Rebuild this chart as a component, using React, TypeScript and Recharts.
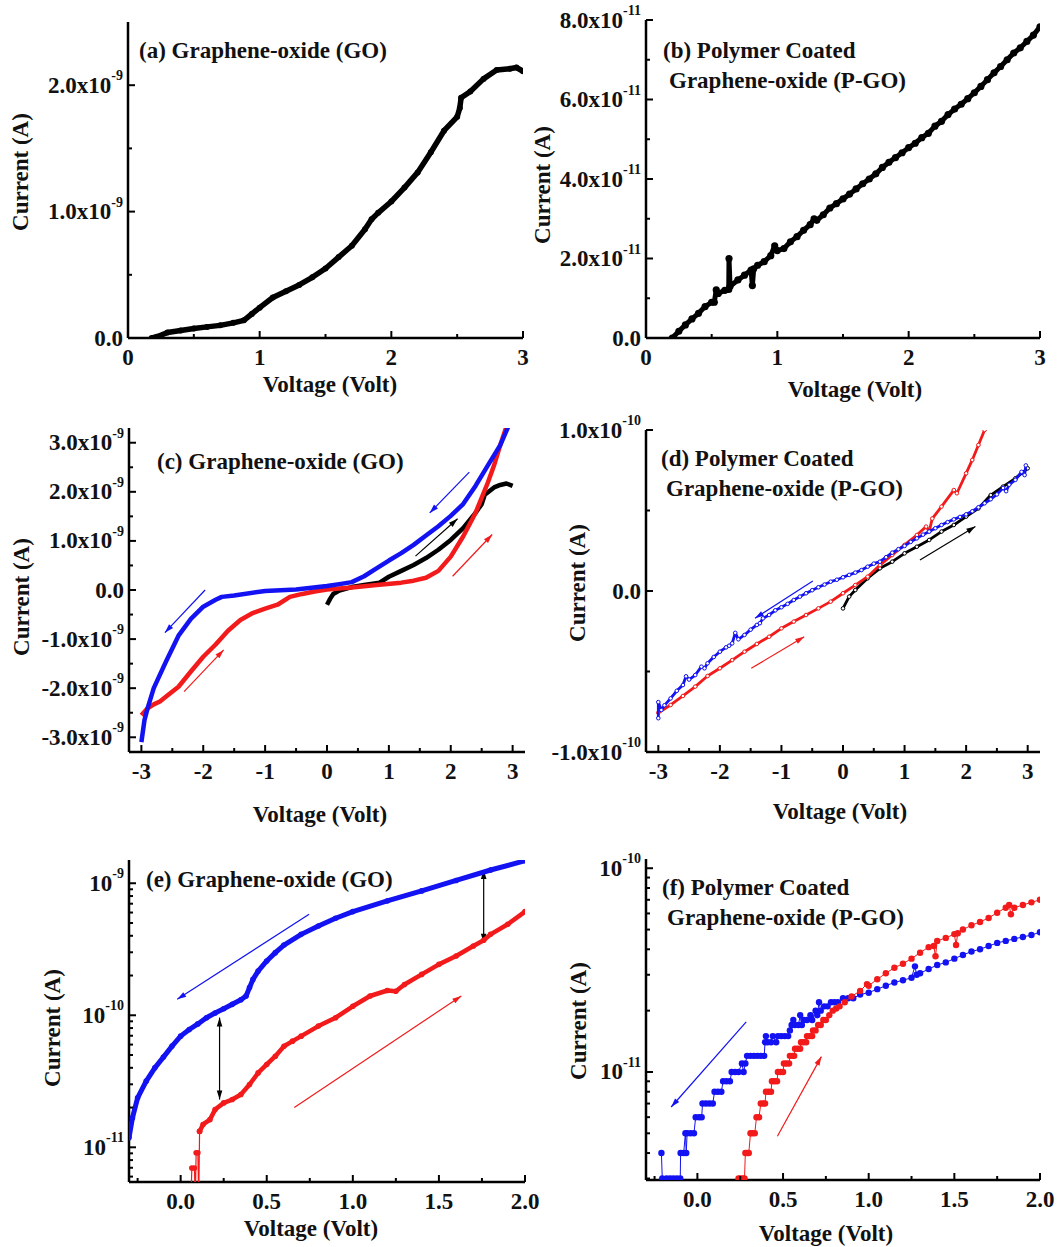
import React from "react";
import { ComposedChart, Scatter, XAxis, YAxis, ReferenceLine } from "recharts";

type Pt = [number, number];
type Lbl = [string, string?];
type Series = { pts: Pt[]; color: string; r: number; lw: number; hollow?: boolean };
type Arrow = { from: Pt; to: Pt; color: string; both?: boolean };

const BLUE = "#1212f2";
const RED = "#f21a1a";
const BLACK = "#000";
const FONT = "'Liberation Serif', 'Times New Roman', serif";

// ---- (a) GO, 0 -> 3 V
const aCurve: Pt[] = [
  [0.18, 0], [0.22, 0.01e-9], [0.3, 0.044e-9], [0.4, 0.06e-9], [0.5, 0.075e-9], [0.6, 0.088e-9],
  [0.7, 0.1e-9], [0.8, 0.12e-9], [0.88, 0.14e-9], [0.94, 0.19e-9], [1.0, 0.24e-9], [1.1, 0.32e-9],
  [1.2, 0.37e-9], [1.3, 0.42e-9], [1.4, 0.48e-9], [1.5, 0.55e-9], [1.6, 0.64e-9], [1.7, 0.73e-9],
  [1.8, 0.86e-9], [1.85, 0.94e-9], [1.9, 0.99e-9], [2.0, 1.08e-9], [2.1, 1.19e-9], [2.2, 1.31e-9],
  [2.3, 1.47e-9], [2.4, 1.64e-9], [2.5, 1.75e-9], [2.52, 1.82e-9], [2.53, 1.9e-9], [2.6, 1.95e-9],
  [2.7, 2.05e-9], [2.8, 2.12e-9], [2.9, 2.13e-9], [2.95, 2.14e-9], [3.0, 2.11e-9],
];

// ---- (b) P-GO, 0 -> 3 V
const bCurve: Pt[] = [
  [0.2, 0], [0.25, 0.17e-11], [0.3, 0.33e-11], [0.35, 0.48e-11], [0.4, 0.62e-11], [0.45, 0.79e-11],
  [0.5, 0.9e-11], [0.52, 0.9e-11], [0.535, 1.21e-11], [0.55, 1.12e-11], [0.6, 1.2e-11], [0.63, 1.22e-11],
  [0.632, 2.0e-11], [0.64, 1.3e-11], [0.7, 1.46e-11], [0.75, 1.58e-11], [0.8, 1.71e-11], [0.81, 1.32e-11],
  [0.82, 1.74e-11], [0.85, 1.83e-11], [0.9, 1.92e-11], [0.95, 2.07e-11], [0.98, 2.32e-11], [1.0, 2.2e-11],
  [1.05, 2.25e-11], [1.1, 2.42e-11], [1.15, 2.55e-11], [1.2, 2.71e-11], [1.25, 2.85e-11], [1.28, 3.0e-11],
  [1.3, 2.96e-11], [1.35, 3.1e-11], [1.4, 3.27e-11], [1.45, 3.38e-11], [1.5, 3.5e-11], [1.55, 3.62e-11],
  [1.6, 3.75e-11], [1.65, 3.88e-11], [1.7, 4.0e-11], [1.75, 4.13e-11], [1.8, 4.29e-11], [1.85, 4.42e-11],
  [1.9, 4.54e-11], [1.95, 4.66e-11], [2.0, 4.79e-11], [2.05, 4.9e-11], [2.1, 5.04e-11], [2.15, 5.15e-11],
  [2.2, 5.33e-11], [2.25, 5.45e-11], [2.3, 5.62e-11], [2.35, 5.76e-11], [2.4, 5.88e-11], [2.45, 6.02e-11],
  [2.5, 6.17e-11], [2.55, 6.33e-11], [2.6, 6.5e-11], [2.65, 6.67e-11], [2.7, 6.83e-11], [2.75, 7.0e-11],
  [2.8, 7.17e-11], [2.85, 7.3e-11], [2.9, 7.46e-11], [2.95, 7.62e-11], [3.0, 7.83e-11],
];

// ---- (c) GO sweep
const cBlack: Pt[] = [
  [0.0, -0.3e-9], [0.05, -0.18e-9], [0.1, -0.08e-9], [0.2, -0.01e-9], [0.4, 0.06e-9], [0.6, 0.1e-9],
  [0.85, 0.15e-9], [1.0, 0.27e-9], [1.2, 0.39e-9], [1.4, 0.51e-9], [1.6, 0.65e-9], [1.8, 0.82e-9],
  [2.0, 1.02e-9], [2.2, 1.26e-9], [2.4, 1.57e-9], [2.5, 1.75e-9], [2.55, 1.94e-9], [2.7, 2.09e-9],
  [2.8, 2.14e-9], [2.9, 2.17e-9], [3.0, 2.12e-9],
];
const cRed: Pt[] = [
  [-3.0, -2.55e-9], [-2.9, -2.41e-9], [-2.8, -2.33e-9], [-2.7, -2.27e-9], [-2.6, -2.17e-9],
  [-2.4, -1.97e-9], [-2.2, -1.66e-9], [-2.0, -1.36e-9], [-1.8, -1.11e-9], [-1.6, -0.83e-9],
  [-1.4, -0.61e-9], [-1.2, -0.47e-9], [-1.0, -0.38e-9], [-0.8, -0.3e-9], [-0.6, -0.14e-9],
  [-0.4, -0.08e-9], [-0.2, -0.03e-9], [0.0, 0.01e-9], [0.4, 0.05e-9], [0.8, 0.1e-9], [1.2, 0.15e-9],
  [1.4, 0.19e-9], [1.6, 0.25e-9], [1.8, 0.39e-9], [2.0, 0.68e-9], [2.2, 1.09e-9], [2.4, 1.57e-9],
  [2.6, 2.19e-9], [2.7, 2.54e-9], [2.8, 2.95e-9], [2.9, 3.33e-9],
];
const cBlue: Pt[] = [
  [2.93, 3.33e-9], [2.8, 2.95e-9], [2.6, 2.54e-9], [2.4, 2.12e-9], [2.2, 1.75e-9], [2.0, 1.51e-9],
  [1.8, 1.3e-9], [1.6, 1.11e-9], [1.4, 0.92e-9], [1.2, 0.75e-9], [1.0, 0.6e-9], [0.8, 0.44e-9],
  [0.6, 0.28e-9], [0.4, 0.16e-9], [0.2, 0.12e-9], [0.0, 0.08e-9], [-0.5, 0.01e-9], [-1.0, -0.02e-9],
  [-1.5, -0.11e-9], [-1.7, -0.14e-9], [-1.8, -0.2e-9], [-2.0, -0.34e-9], [-2.2, -0.59e-9],
  [-2.4, -0.93e-9], [-2.6, -1.45e-9], [-2.8, -2.0e-9], [-2.9, -2.41e-9], [-2.95, -2.65e-9], [-3.0, -3.1e-9],
];

// ---- (d) P-GO sweep
const dBlack: Pt[] = [
  [0.0, -0.108e-10], [0.1, -0.035e-10], [0.2, 0.006e-10], [0.4, 0.079e-10], [0.6, 0.141e-10],
  [0.8, 0.182e-10], [1.0, 0.234e-10], [1.2, 0.275e-10], [1.4, 0.317e-10], [1.6, 0.369e-10],
  [1.8, 0.41e-10], [2.0, 0.462e-10], [2.2, 0.513e-10], [2.4, 0.596e-10], [2.6, 0.648e-10],
  [2.8, 0.7e-10], [3.0, 0.762e-10],
];
const dRed: Pt[] = [
  [-3.0, -0.756e-10], [-2.8, -0.708e-10], [-2.6, -0.652e-10], [-2.4, -0.594e-10], [-2.2, -0.528e-10],
  [-2.0, -0.48e-10], [-1.8, -0.429e-10], [-1.6, -0.377e-10], [-1.4, -0.329e-10], [-1.2, -0.284e-10],
  [-1.0, -0.232e-10], [-0.8, -0.19e-10], [-0.6, -0.149e-10], [-0.4, -0.108e-10], [-0.2, -0.066e-10],
  [0.0, -0.014e-10], [0.2, 0.037e-10], [0.4, 0.089e-10], [0.6, 0.161e-10], [0.8, 0.224e-10],
  [1.0, 0.286e-10], [1.2, 0.348e-10], [1.35, 0.4e-10], [1.4, 0.37e-10], [1.45, 0.45e-10],
  [1.6, 0.524e-10], [1.8, 0.627e-10], [1.85, 0.607e-10], [2.0, 0.731e-10], [2.1, 0.814e-10],
  [2.2, 0.907e-10], [2.3, 1.0e-10],
];
const dBlue: Pt[] = [
  [2.97, 0.78e-10], [2.95, 0.72e-10], [2.9, 0.74e-10], [2.8, 0.69e-10], [2.7, 0.66e-10], [2.65, 0.62e-10],
  [2.6, 0.64e-10], [2.5, 0.6e-10], [2.4, 0.57e-10], [2.3, 0.545e-10], [2.2, 0.52e-10], [2.1, 0.495e-10],
  [2.0, 0.476e-10], [1.9, 0.46e-10], [1.8, 0.445e-10], [1.7, 0.428e-10], [1.6, 0.41e-10], [1.5, 0.39e-10],
  [1.4, 0.369e-10], [1.3, 0.35e-10], [1.2, 0.327e-10], [1.1, 0.305e-10], [1.0, 0.28e-10], [0.9, 0.26e-10],
  [0.8, 0.238e-10], [0.7, 0.21e-10], [0.6, 0.182e-10], [0.5, 0.17e-10], [0.4, 0.151e-10], [0.3, 0.13e-10],
  [0.2, 0.114e-10], [0.1, 0.1e-10], [0.0, 0.085e-10], [-0.1, 0.07e-10], [-0.2, 0.058e-10], [-0.3, 0.04e-10],
  [-0.4, 0.023e-10], [-0.5, 0.005e-10], [-0.6, -0.014e-10], [-0.7, -0.035e-10], [-0.8, -0.056e-10],
  [-0.9, -0.08e-10], [-1.0, -0.101e-10], [-1.1, -0.12e-10], [-1.2, -0.149e-10], [-1.3, -0.17e-10],
  [-1.35, -0.2e-10], [-1.4, -0.211e-10], [-1.5, -0.24e-10], [-1.6, -0.273e-10], [-1.7, -0.3e-10],
  [-1.75, -0.26e-10], [-1.8, -0.325e-10], [-1.85, -0.34e-10], [-1.9, -0.35e-10], [-2.0, -0.377e-10],
  [-2.1, -0.41e-10], [-2.2, -0.449e-10], [-2.25, -0.48e-10], [-2.3, -0.47e-10], [-2.4, -0.522e-10],
  [-2.5, -0.55e-10], [-2.55, -0.53e-10], [-2.6, -0.584e-10], [-2.7, -0.62e-10], [-2.8, -0.667e-10],
  [-2.9, -0.71e-10], [-2.95, -0.739e-10], [-3.0, -0.69e-10], [-3.0, -0.79e-10],
];

// ---- (e) GO, log scale
const eBlue: Pt[] = [
  [-0.3, 1.18e-11], [-0.28, 1.67e-11], [-0.25, 2.37e-11], [-0.2, 3.17e-11], [-0.15, 4.0e-11],
  [-0.1, 4.82e-11], [-0.05, 5.84e-11], [0.0, 6.95e-11], [0.05, 7.8e-11], [0.1, 8.6e-11], [0.15, 9.58e-11],
  [0.2, 1.04e-10], [0.25, 1.12e-10], [0.3, 1.21e-10], [0.35, 1.31e-10], [0.38, 1.4e-10], [0.4, 1.62e-10],
  [0.42, 1.87e-10], [0.45, 2.16e-10], [0.5, 2.58e-10], [0.55, 2.98e-10], [0.6, 3.4e-10], [0.7, 4.1e-10],
  [0.8, 4.75e-10], [0.9, 5.43e-10], [1.0, 6.1e-10], [1.2, 7.34e-10], [1.4, 8.75e-10], [1.6, 1.05e-9],
  [1.8, 1.26e-9], [2.0, 1.48e-9],
];
const eRedTail: Pt[] = [
  [0.06, 4e-12], [0.065, 6.97e-12], [0.08, 6.97e-12], [0.085, 4e-12], [0.09, 9.1e-12], [0.1, 9.1e-12],
  [0.105, 4e-12], [0.11, 1.32e-11],
];
const eRed: Pt[] = [
  [0.11, 1.32e-11], [0.13, 1.49e-11], [0.17, 1.62e-11], [0.2, 1.93e-11], [0.25, 2.17e-11], [0.3, 2.3e-11],
  [0.35, 2.51e-11], [0.4, 2.99e-11], [0.45, 3.66e-11], [0.5, 4.24e-11], [0.55, 4.9e-11], [0.6, 5.83e-11],
  [0.65, 6.37e-11], [0.7, 6.95e-11], [0.8, 8.28e-11], [0.9, 9.58e-11], [1.0, 1.17e-10], [1.1, 1.4e-10],
  [1.2, 1.54e-10], [1.25, 1.52e-10], [1.3, 1.71e-10], [1.4, 2.04e-10], [1.5, 2.43e-10], [1.6, 2.81e-10],
  [1.7, 3.35e-10], [1.76, 3.7e-10], [1.8, 4.1e-10], [1.9, 4.89e-10], [2.0, 6.1e-10],
];

// ---- (f) P-GO, log scale
const fBlue: Pt[] = [
  [-0.21, 4e-12], [-0.205, 3e-12], [-0.18, 3e-12], [-0.16, 3e-12], [-0.14, 3e-12], [-0.12, 3e-12],
  [-0.1, 3e-12], [-0.098, 4e-12], [-0.08, 4e-12], [-0.07, 5e-12], [-0.065, 4e-12], [-0.06, 5e-12],
  [-0.04, 5e-12], [-0.02, 5e-12], [-0.01, 6e-12], [0.01, 6e-12], [0.025, 6e-12], [0.03, 7e-12],
  [0.05, 7e-12], [0.07, 7e-12], [0.09, 7e-12], [0.1, 8e-12], [0.12, 8e-12], [0.14, 8e-12], [0.15, 9e-12],
  [0.17, 9e-12], [0.19, 9e-12], [0.2, 1e-11], [0.22, 1e-11], [0.24, 1e-11], [0.26, 1.1e-11], [0.27, 1e-11],
  [0.28, 1.1e-11], [0.29, 1.2e-11], [0.31, 1.2e-11], [0.33, 1.2e-11], [0.35, 1.2e-11], [0.37, 1.2e-11],
  [0.39, 1.2e-11], [0.395, 1.4e-11], [0.4, 1.5e-11], [0.41, 1.4e-11], [0.43, 1.4e-11], [0.44, 1.5e-11],
  [0.46, 1.4e-11], [0.47, 1.5e-11], [0.49, 1.5e-11], [0.51, 1.5e-11], [0.53, 1.5e-11], [0.54, 1.6e-11],
  [0.55, 1.7e-11], [0.56, 1.8e-11], [0.57, 1.7e-11], [0.59, 1.7e-11], [0.6, 1.9e-11], [0.61, 1.7e-11],
  [0.62, 1.8e-11], [0.64, 1.8e-11], [0.66, 1.9e-11], [0.67, 1.8e-11], [0.69, 2.0e-11], [0.7, 1.9e-11],
  [0.71, 2.2e-11], [0.72, 2.0e-11], [0.74, 2.1e-11], [0.76, 2.1e-11], [0.78, 2.2e-11], [0.8, 2.2e-11],
  [0.82, 2.2e-11], [0.85, 2.3e-11], [0.88, 2.3e-11], [0.91, 2.3e-11], [0.95, 2.4e-11], [1.0, 2.45e-11],
  [1.05, 2.55e-11], [1.1, 2.65e-11], [1.15, 2.75e-11], [1.2, 2.82e-11], [1.25, 2.9e-11], [1.27, 3.3e-11],
  [1.28, 3.0e-11], [1.3, 3.05e-11], [1.35, 3.2e-11], [1.4, 3.35e-11], [1.45, 3.45e-11], [1.5, 3.6e-11],
  [1.55, 3.75e-11], [1.6, 3.9e-11], [1.65, 4.0e-11], [1.7, 4.15e-11], [1.75, 4.3e-11], [1.8, 4.4e-11],
  [1.85, 4.5e-11], [1.9, 4.6e-11], [1.95, 4.7e-11], [2.0, 4.85e-11],
];
const fRed: Pt[] = [
  [0.24, 3e-12], [0.25, 3e-12], [0.265, 3e-12], [0.275, 3e-12], [0.28, 4e-12], [0.29, 4e-12], [0.3, 4e-12],
  [0.31, 5e-12], [0.32, 5e-12], [0.335, 5e-12], [0.345, 6e-12], [0.36, 6e-12], [0.37, 7e-12], [0.385, 7e-12],
  [0.395, 7e-12], [0.4, 8e-12], [0.415, 8e-12], [0.43, 8e-12], [0.435, 9e-12], [0.45, 9e-12], [0.465, 9e-12],
  [0.47, 1e-11], [0.485, 1e-11], [0.5, 1e-11], [0.505, 1.1e-11], [0.52, 1.1e-11], [0.535, 1.1e-11],
  [0.54, 1.2e-11], [0.555, 1.2e-11], [0.565, 1.2e-11], [0.57, 1.3e-11], [0.585, 1.3e-11], [0.6, 1.3e-11],
  [0.605, 1.4e-11], [0.62, 1.4e-11], [0.635, 1.4e-11], [0.64, 1.5e-11], [0.655, 1.5e-11], [0.67, 1.5e-11],
  [0.675, 1.6e-11], [0.69, 1.6e-11], [0.705, 1.7e-11], [0.72, 1.7e-11], [0.735, 1.8e-11], [0.75, 1.8e-11],
  [0.77, 1.9e-11], [0.79, 2.0e-11], [0.81, 2.05e-11], [0.83, 2.1e-11], [0.86, 2.2e-11], [0.9, 2.35e-11],
  [0.95, 2.5e-11], [0.99, 2.7e-11], [1.0, 2.65e-11], [1.05, 2.85e-11], [1.1, 3.05e-11], [1.15, 3.25e-11],
  [1.2, 3.4e-11], [1.25, 3.6e-11], [1.3, 3.85e-11], [1.35, 4.1e-11], [1.38, 4.15e-11], [1.39, 3.7e-11],
  [1.4, 4.4e-11], [1.45, 4.55e-11], [1.5, 4.75e-11], [1.51, 4.2e-11], [1.52, 4.8e-11], [1.55, 5.0e-11],
  [1.6, 5.25e-11], [1.65, 5.45e-11], [1.7, 5.7e-11], [1.75, 6.05e-11], [1.8, 6.4e-11], [1.82, 6.6e-11],
  [1.83, 5.95e-11], [1.85, 6.4e-11], [1.9, 6.6e-11], [1.95, 6.8e-11], [2.0, 7.0e-11],
];

// ---- sweep-direction arrows
const cArrows: Arrow[] = [
  { from: [2.3, 2.4e-9], to: [1.66, 1.57e-9], color: BLUE },
  { from: [1.43, 0.69e-9], to: [2.11, 1.45e-9], color: BLACK },
  { from: [2.03, 0.28e-9], to: [2.67, 1.13e-9], color: RED },
  { from: [-1.97, 0.0], to: [-2.62, -0.87e-9], color: BLUE },
  { from: [-2.31, -2.07e-9], to: [-1.67, -1.22e-9], color: RED },
];
const dArrows: Arrow[] = [
  { from: [-0.49, 0.062e-10], to: [-1.43, -0.17e-10], color: BLUE },
  { from: [-1.49, -0.48e-10], to: [-0.63, -0.284e-10], color: RED },
  { from: [1.25, 0.193e-10], to: [2.15, 0.4e-10], color: BLACK },
];
const eArrows: Arrow[] = [
  { from: [0.746, 5.82e-10], to: [-0.02, 1.32e-10], color: BLUE },
  { from: [0.66, 2.0e-11], to: [1.63, 1.4e-10], color: RED },
  { from: [0.226, 9.6e-11], to: [0.226, 2.3e-11], color: BLACK, both: true },
  { from: [1.76, 1.26e-9], to: [1.76, 3.55e-10], color: BLACK, both: true },
];
const fArrows: Arrow[] = [
  { from: [0.285, 1.76e-11], to: [-0.153, 6.73e-12], color: BLUE },
  { from: [0.467, 4.84e-12], to: [0.724, 1.19e-11], color: RED },
];

// ---- ticks
const x03Major = [0, 1, 2, 3];
const x03Minor = [0.5, 1.5, 2.5];
const x03Text = ["0", "1", "2", "3"];
const x33Major = [-3, -2, -1, 0, 1, 2, 3];
const x33Minor = [-2.5, -1.5, -0.5, 0.5, 1.5, 2.5];
const x33Text = ["-3", "-2", "-1", "0", "1", "2", "3"];
const x02Major = [0, 0.5, 1, 1.5, 2];
const x02Minor = [-0.25, 0.25, 0.75, 1.25, 1.75];
const x02Text = ["0.0", "0.5", "1.0", "1.5", "2.0"];

const aYMajor = [0, 1e-9, 2e-9];
const aYMinor = [0.5e-9, 1.5e-9];
const aYText: Lbl[] = [["0.0"], ["1.0x10", "-9"], ["2.0x10", "-9"]];
const bYMajor = [0, 2e-11, 4e-11, 6e-11, 8e-11];
const bYMinor = [1e-11, 3e-11, 5e-11, 7e-11];
const bYText: Lbl[] = [["0.0"], ["2.0x10", "-11"], ["4.0x10", "-11"], ["6.0x10", "-11"], ["8.0x10", "-11"]];
const cYMajor = [-3e-9, -2e-9, -1e-9, 0, 1e-9, 2e-9, 3e-9];
const cYMinor = [-2.5e-9, -1.5e-9, -0.5e-9, 0.5e-9, 1.5e-9, 2.5e-9];
const cYText: Lbl[] = [
  ["-3.0x10", "-9"], ["-2.0x10", "-9"], ["-1.0x10", "-9"], ["0.0"], ["1.0x10", "-9"], ["2.0x10", "-9"], ["3.0x10", "-9"],
];
const dYMajor = [-1e-10, 0, 1e-10];
const dYMinor = [-0.5e-10, 0.5e-10];
const dYText: Lbl[] = [["-1.0x10", "-10"], ["0.0"], ["1.0x10", "-10"]];
const eYMajor = [1e-11, 1e-10, 1e-9];
const eYMinor = [
  6e-12, 7e-12, 8e-12, 9e-12, 2e-11, 3e-11, 4e-11, 5e-11, 6e-11, 7e-11, 8e-11, 9e-11,
  2e-10, 3e-10, 4e-10, 5e-10, 6e-10, 7e-10, 8e-10, 9e-10,
];
const eYText: Lbl[] = [["10", "-11"], ["10", "-10"], ["10", "-9"]];
const fYMajor = [1e-11, 1e-10];
const fYMinor = [3e-12, 4e-12, 5e-12, 6e-12, 7e-12, 8e-12, 9e-12, 2e-11, 3e-11, 4e-11, 5e-11, 6e-11, 7e-11, 8e-11, 9e-11];
const fYText: Lbl[] = [["10", "-11"], ["10", "-10"]];

const YW = 130;
const XH = 44;
const TM = 26;
const RM = 24;
const AX = { stroke: "#000", strokeWidth: 2.5 };

function findMajor(majors: number[], v: number) {
  return majors.findIndex((m) => Math.abs(m - v) <= Math.abs(m) * 1e-6 + 1e-24);
}

function makeTick(side: "left" | "right" | "top" | "bottom", majors: number[], labels?: Lbl[]) {
  return (p: any) => {
    const v = p.payload.value;
    const idx = findMajor(majors, v);
    const len = idx >= 0 ? 7 : 4;
    const x = Number(p.x);
    const y = Number(p.y);
    let l = [x, y, x, y];
    if (side === "left") l = [x, y, x + len, y];
    if (side === "right") l = [x, y, x - len, y];
    if (side === "top") l = [x, y, x, y + len];
    if (side === "bottom") l = [x, y, x, y - len];
    const lab = labels && idx >= 0 ? labels[idx] : null;
    return (
      <g>
        <line x1={l[0]} y1={l[1]} x2={l[2]} y2={l[3]} stroke="#000" strokeWidth={2} />
        {lab && side === "left" && (
          <text x={x - 5} y={y} textAnchor="end" dominantBaseline="central" fontFamily={FONT} fontWeight="bold" fontSize={23} fill="#111">
            {lab[0]}
            {lab[1] && <tspan dy={-10} fontSize={14}>{lab[1]}</tspan>}
          </text>
        )}
        {lab && side === "bottom" && (
          <text x={x} y={y + 19} textAnchor="middle" dominantBaseline="central" fontFamily={FONT} fontWeight="bold" fontSize={23} fill="#111">
            {lab[0]}
          </text>
        )}
      </g>
    );
  };
}

function dotShape(s: Series) {
  return (p: any) => {
    if (s.r <= 0 || p.cx == null) return <g />;
    return (
      <circle cx={p.cx} cy={p.cy} r={s.r} fill={s.hollow ? "#fff" : s.color} stroke={s.color} strokeWidth={s.hollow ? 1 : 0} />
    );
  };
}

function head(fx: number, fy: number, tx: number, ty: number, color: string) {
  const dx = tx - fx;
  const dy = ty - fy;
  const L = Math.hypot(dx, dy) || 1;
  const ux = dx / L;
  const uy = dy / L;
  const bx = tx - ux * 9;
  const by = ty - uy * 9;
  return <polygon points={`${tx},${ty} ${bx - uy * 2.8},${by + ux * 2.8} ${bx + uy * 2.8},${by - ux * 2.8}`} fill={color} />;
}

function arrowShape(a: Arrow) {
  return (p: any) => {
    const { x1, y1, x2, y2 } = p;
    return (
      <g>
        <line x1={x1} y1={y1} x2={x2} y2={y2} stroke={a.color} strokeWidth={1.2} />
        {head(x1, y1, x2, y2, a.color)}
        {a.both && head(x2, y2, x1, y1, a.color)}
      </g>
    );
  };
}

type PanelProps = {
  box: [number, number, number, number];
  xDomain: [number, number];
  yDomain: [number, number];
  log?: boolean;
  xMajor: number[];
  xMinor: number[];
  xText: string[];
  yMajor: number[];
  yMinor: number[];
  yText: Lbl[];
  series: Series[];
  arrows: Arrow[];
};

function Panel(p: PanelProps) {
  const [left, top, w, h] = p.box;
  const xt = [...p.xMajor, ...p.xMinor].sort((a, b) => a - b);
  const yt = [...p.yMajor, ...p.yMinor].sort((a, b) => a - b);
  const scale = p.log ? "log" : "linear";
  return (
    <div style={{ position: "absolute", left: left - YW, top: top - TM }}>
      <ComposedChart width={YW + w + RM} height={TM + h + XH} margin={{ top: TM, right: RM, left: 0, bottom: 0 }}>
        <XAxis xAxisId={0} dataKey="x" type="number" domain={p.xDomain} allowDataOverflow ticks={xt} interval={0}
          height={XH} tickSize={0} tickMargin={0} axisLine={AX} tickLine={false}
          tick={makeTick("bottom", p.xMajor, p.xText.map((s) => [s] as Lbl))} />
        <XAxis xAxisId="top" orientation="top" type="number" domain={p.xDomain} allowDataOverflow ticks={xt} interval={0}
          height={0} tickSize={0} tickMargin={0} axisLine={AX} tickLine={false} tick={makeTick("top", p.xMajor)} />
        <YAxis yAxisId={0} dataKey="y" type="number" scale={scale} domain={p.yDomain} allowDataOverflow ticks={yt} interval={0}
          width={YW} tickSize={0} tickMargin={0} axisLine={AX} tickLine={false} tick={makeTick("left", p.yMajor, p.yText)} />
        <YAxis yAxisId="right" orientation="right" type="number" scale={scale} domain={p.yDomain} allowDataOverflow ticks={yt}
          interval={0} width={0} tickSize={0} tickMargin={0} axisLine={AX} tickLine={false} tick={makeTick("right", p.yMajor)} />
        {p.series.map((s, i) => (
          <Scatter key={`s${i}`} xAxisId={0} yAxisId={0} data={s.pts.map(([x, y]) => ({ x, y }))} dataKey="y"
            line={{ stroke: s.color, strokeWidth: s.lw, strokeLinejoin: "round" }} lineJointType="linear"
            fill={s.color} shape={dotShape(s)} isAnimationActive={false} />
        ))}
        {p.arrows.map((a, i) => (
          <ReferenceLine key={`a${i}`} xAxisId={0} yAxisId={0} ifOverflow="visible"
            segment={[{ x: a.from[0], y: a.from[1] }, { x: a.to[0], y: a.to[1] }]} shape={arrowShape(a)} />
        ))}
      </ComposedChart>
    </div>
  );
}

const txt: React.CSSProperties = {
  position: "absolute",
  fontFamily: FONT,
  fontWeight: "bold",
  fontSize: 23,
  color: "#111",
  whiteSpace: "nowrap",
  lineHeight: 1,
};

function Title({ x, y, lines }: { x: number; y: number; lines: [string, number][] }) {
  return (
    <>
      {lines.map(([s, dx], i) => (
        <div key={i} style={{ ...txt, left: x + dx, top: y + i * 30, transform: "translateY(-50%)" }}>{s}</div>
      ))}
    </>
  );
}

function XTitle({ x, y }: { x: number; y: number }) {
  return <div style={{ ...txt, left: x, top: y, transform: "translate(-50%,-50%)" }}>Voltage (Volt)</div>;
}

function YTitle({ x, y }: { x: number; y: number }) {
  return <div style={{ ...txt, left: x, top: y, transform: "translate(-50%,-50%) rotate(-90deg)" }}>Current (A)</div>;
}

export default function App() {
  return (
    <div style={{ position: "absolute", left: 0, top: 0, width: 1059, height: 1247, background: "#fff", overflow: "hidden" }}>
      <Panel box={[128, 22, 395, 316]} xDomain={[0, 3]} yDomain={[0, 2.5e-9]}
        xMajor={x03Major} xMinor={x03Minor} xText={x03Text} yMajor={aYMajor} yMinor={aYMinor} yText={aYText}
        series={[{ pts: aCurve, color: BLACK, r: 3, lw: 5.5 }]} arrows={[]} />
      <Panel box={[646, 20, 394, 318]} xDomain={[0, 3]} yDomain={[0, 8e-11]}
        xMajor={x03Major} xMinor={x03Minor} xText={x03Text} yMajor={bYMajor} yMinor={bYMinor} yText={bYText}
        series={[{ pts: bCurve, color: BLACK, r: 3.6, lw: 5 }]} arrows={[]} />
      <Panel box={[129, 428, 396, 324]} xDomain={[-3.2, 3.2]} yDomain={[-3.3e-9, 3.3e-9]}
        xMajor={x33Major} xMinor={x33Minor} xText={x33Text} yMajor={cYMajor} yMinor={cYMinor} yText={cYText}
        series={[
          { pts: cBlack, color: BLACK, r: 0, lw: 4.5 },
          { pts: cRed, color: RED, r: 0, lw: 4.5 },
          { pts: cBlue, color: BLUE, r: 0, lw: 4.5 },
        ]} arrows={cArrows} />
      <Panel box={[646, 430, 394, 322]} xDomain={[-3.2, 3.2]} yDomain={[-1e-10, 1e-10]}
        xMajor={x33Major} xMinor={x33Minor} xText={x33Text} yMajor={dYMajor} yMinor={dYMinor} yText={dYText}
        series={[
          { pts: dBlack, color: BLACK, r: 1.8, lw: 2.8, hollow: true },
          { pts: dRed, color: RED, r: 1.8, lw: 2.8, hollow: true },
          { pts: dBlue, color: BLUE, r: 1.8, lw: 2.8, hollow: true },
        ]} arrows={dArrows} />
      <Panel box={[129, 860, 396, 322]} xDomain={[-0.3, 2]} yDomain={[5.46e-12, 1.5e-9]} log
        xMajor={x02Major} xMinor={x02Minor} xText={x02Text} yMajor={eYMajor} yMinor={eYMinor} yText={eYText}
        series={[
          { pts: eBlue, color: BLUE, r: 2.8, lw: 5 },
          { pts: eRedTail, color: RED, r: 2.8, lw: 1.2 },
          { pts: eRed, color: RED, r: 2.8, lw: 4.5 },
        ]} arrows={eArrows} />
      <Panel box={[646, 859, 394, 321]} xDomain={[-0.3, 2]} yDomain={[2.95e-12, 1.11e-10]} log
        xMajor={x02Major} xMinor={x02Minor} xText={x02Text} yMajor={fYMajor} yMinor={fYMinor} yText={fYText}
        series={[
          { pts: fBlue, color: BLUE, r: 3.2, lw: 1 },
          { pts: fRed, color: RED, r: 3.2, lw: 1 },
        ]} arrows={fArrows} />

      <Title x={139} y={50} lines={[["(a) Graphene-oxide (GO)", 0]]} />
      <Title x={663} y={50} lines={[["(b) Polymer Coated", 0], ["Graphene-oxide (P-GO)", 6]]} />
      <Title x={157} y={461} lines={[["(c) Graphene-oxide (GO)", 0]]} />
      <Title x={661} y={458} lines={[["(d) Polymer Coated", 0], ["Graphene-oxide (P-GO)", 5]]} />
      <Title x={146} y={879} lines={[["(e) Graphene-oxide (GO)", 0]]} />
      <Title x={662} y={887} lines={[["(f) Polymer Coated", 0], ["Graphene-oxide (P-GO)", 5]]} />

      <XTitle x={330} y={384} />
      <XTitle x={855} y={389} />
      <XTitle x={320} y={814} />
      <XTitle x={840} y={811} />
      <XTitle x={311} y={1228} />
      <XTitle x={826} y={1233} />

      <YTitle x={20} y={172} />
      <YTitle x={542} y={185} />
      <YTitle x={21} y={597} />
      <YTitle x={577} y={583} />
      <YTitle x={52} y={1028} />
      <YTitle x={578} y={1021} />
    </div>
  );
}
